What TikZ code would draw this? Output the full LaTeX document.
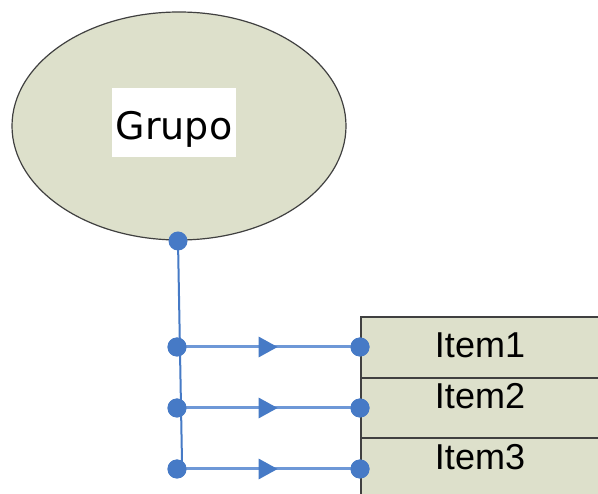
\documentclass[tikz,border=0pt]{standalone}
\usepackage{fontspec}
\setmainfont{Liberation Sans}
\newfontfamily\grupofont{DejaVu Sans}
\usetikzlibrary{shapes.geometric,arrows.meta,decorations.markings}
\definecolor{paleolive}{RGB}{221,224,203}
\definecolor{edgegray}{RGB}{64,64,64}
\definecolor{pinblue}{RGB}{70,122,198}
\definecolor{linkblue}{RGB}{110,152,215}
\tikzset{
  pin/.style={circle,fill=pinblue,inner sep=0pt,minimum size=19pt},
  link/.style={draw=linkblue,line width=3pt,
    postaction={decorate},
    decoration={markings,mark=at position 0.55 with
      {\arrow[pinblue]{Triangle[length=19pt,width=20pt]}}}},
  itembox/.style={draw=edgegray,line width=1.8pt,fill=paleolive},
  itemtext/.style={font=\fontsize{36}{40}\selectfont,text=black,anchor=center}
}
\begin{document}
\begin{tikzpicture}[x=1pt,y=-1pt]
  \clip (0,0) rectangle (598,494);
  \fill[white] (0,0) rectangle (598,494);

  % group ellipse with its label
  \node[ellipse,draw=edgegray,line width=1.2pt,fill=paleolive,
        minimum width=334pt,minimum height=228pt,inner sep=0pt] (grupo) at (179,126) {};
  \node[fill=white,inner sep=0pt,text height=52pt,text depth=17pt,minimum width=124pt,
        anchor=base,font=\grupofont\fontsize{38}{40}\selectfont] (grupolabel) at (174,140) {Grupo};

  % item table
  \draw[itembox] (361,317) rectangle (620,378);
  \draw[itembox] (361,378) rectangle (620,438);
  \draw[itembox] (361,438) rectangle (620,520);
  \node[itemtext] (item1) at (480,345) {Item1};
  \node[itemtext] (item2) at (480,396) {Item2};
  \node[itemtext] (item3) at (480,457) {Item3};

  % connection points
  \node[pin] (top) at (178,241) {};
  \node[pin] (l1) at (177,347) {};
  \node[pin] (l2) at (177,408) {};
  \node[pin] (l3) at (177,469) {};
  \node[pin] (r1) at (360,347) {};
  \node[pin] (r2) at (360,408) {};
  \node[pin] (r3) at (360,469) {};
  \coordinate (vend) at (182,462);

  % trunk and branches
  \draw[pinblue,line width=2pt] (top.center) -- (vend);
  \draw[link] (l1.center) -- (r1.center);
  \draw[link] (l2.center) -- (r2.center);
  \draw[link] (l3.center) -- (r3.center);
  \node[pin] at (l1) {};
  \node[pin] at (l2) {};
  \node[pin] at (l3) {};
  \node[pin] at (r1) {};
  \node[pin] at (r2) {};
  \node[pin] at (r3) {};
\end{tikzpicture}
\end{document}
